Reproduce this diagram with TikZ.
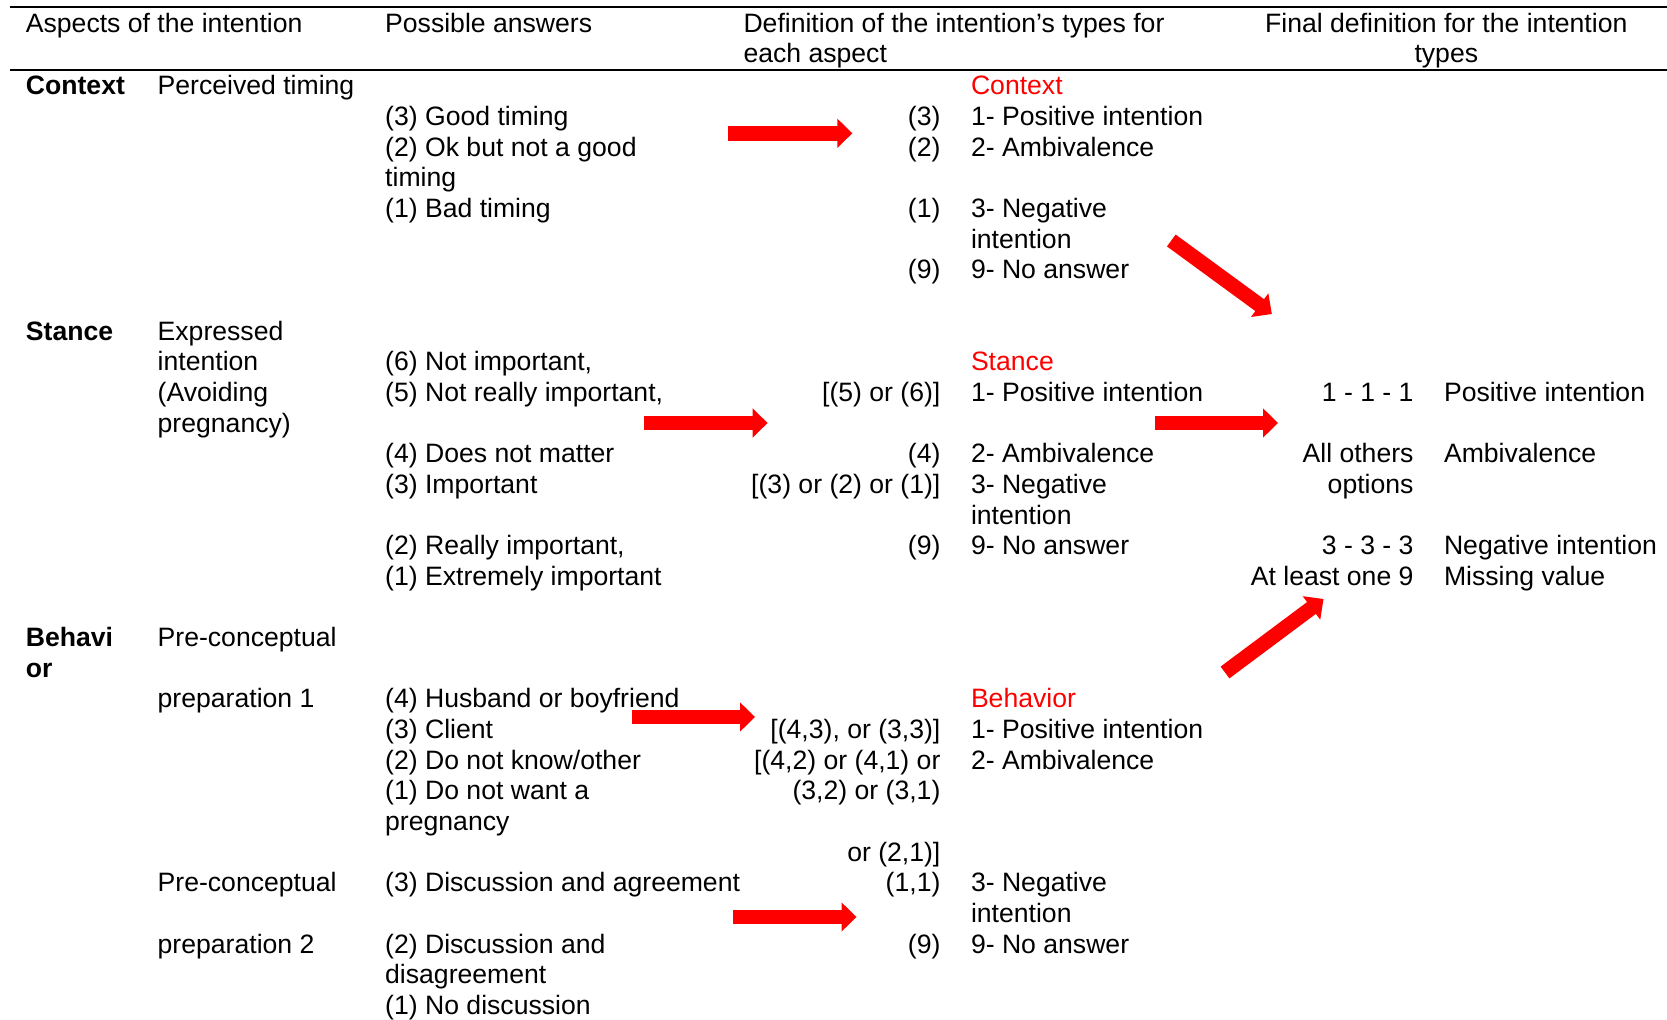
\documentclass[tikz,border=0pt]{standalone}
\usepackage{fontspec}
\setmainfont{Liberation Sans}
\usepackage{tikz}
\usepackage{xcolor}
\usetikzlibrary{calc}

\newcommand{\fs}{\fontsize{13.3pt}{15.33pt}\selectfont}
\newcommand{\redarrow}[2]{%
  \coordinate (hb) at ($(#2)!7.5pt!(#1)$);
  \coordinate (hs) at ($(#2)!7pt!(#1)$);
  \draw[arrowshaft] (#1) -- (hs);
  \fill[red] (#2) -- ($(hb)!7.33pt!90:(#2)$) -- ($(hb)!7.33pt!-90:(#2)$) -- cycle;
}

\tikzset{
  lbl/.style={anchor=base west, inner sep=0pt, font=\fs},
  val/.style={anchor=base east, inner sep=0pt, font=\fs},
  ctr/.style={anchor=base, inner sep=0pt, font=\fs},
  aspect/.style={lbl, font=\fs\bfseries},
  redlbl/.style={lbl, text=red},
  arrowshaft/.style={draw=red, line width=7.35pt},
  rulew/.style={line width=1pt},
}

\begin{document}
\begin{tikzpicture}[x=0.5pt,y=0.5pt,yscale=-1,xscale=1]
\useasboundingbox (0,0) rectangle (1667,1020);

%Straight Lines [rules]
\draw [rulew] (10,7.4) -- (1667,7.4) ;
\draw [rulew] (10,70) -- (1667,70) ;

% Text Node [header]
\node [lbl] (hAsp) at (25.5,32.4) {Aspects of the intention};
\node [lbl] (hAns) at (384.8,32.4) {Possible answers};
\node [lbl] (hDef) at (743.1,32.4) {Definition of the intention’s types for};
\node [lbl] (hDefb) at (743.1,63) {each aspect};
\node [ctr] (hFin) at (1446.3,32.4) {Final definition for the intention};
\node [ctr] (hFinb) at (1446.3,63) {types};

% Text Node [context]
\node [aspect] (ctx) at (25.5,95) {Context};
\node [lbl] (ctxQ) at (157.3,95) {Perceived timing};
\node [redlbl] (ctxT) at (970.6,95) {Context};
\node [lbl] (ctxA3) at (384.8,125.65) {(3) Good timing};
\node [val] (ctxV3) at (940.8,125.65) {(3)};
\node [lbl] (ctxT1) at (970.6,125.65) {1- Positive intention};
\node [lbl] (ctxA2) at (384.8,156.3) {(2) Ok but not a good};
\node [val] (ctxV2) at (940.8,156.3) {(2)};
\node [lbl] (ctxT2) at (970.6,156.3) {2- Ambivalence};
\node [lbl] (ctxA2b) at (384.8,186.95) {timing};
\node [lbl] (ctxA1) at (384.8,217.6) {(1) Bad timing};
\node [val] (ctxV1) at (940.8,217.6) {(1)};
\node [lbl] (ctxT3) at (970.6,217.6) {3- Negative};
\node [lbl] (ctxT3b) at (970.6,248.25) {intention};
\node [val] (ctxV9) at (940.8,278.9) {(9)};
\node [lbl] (ctxT9) at (970.6,278.9) {9- No answer};

% Text Node [stance]
\node [aspect] (stc) at (25.5,340.2) {Stance};
\node [lbl] (stcQ) at (157.3,340.2) {Expressed};
\node [lbl] (stcQb) at (157.3,370.85) {intention};
\node [lbl] (stcQc) at (157.3,401.5) {(Avoiding};
\node [lbl] (stcQd) at (157.3,432.15) {pregnancy)};
\node [lbl] (stcA6) at (384.8,370.85) {(6) Not important,};
\node [redlbl] (stcT) at (970.6,370.85) {Stance};
\node [lbl] (stcA5) at (384.8,401.5) {(5) Not really important,};
\node [val] (stcV1) at (940.8,401.5) {[(5) or (6)]};
\node [lbl] (stcT1) at (970.6,401.5) {1- Positive intention};
\node [lbl] (stcA4) at (384.8,462.8) {(4) Does not matter};
\node [val] (stcV2) at (940.8,462.8) {(4)};
\node [lbl] (stcT2) at (970.6,462.8) {2- Ambivalence};
\node [lbl] (stcA3) at (384.8,493.45) {(3) Important};
\node [val] (stcV3) at (940.8,493.45) {[(3) or (2) or (1)]};
\node [lbl] (stcT3) at (970.6,493.45) {3- Negative};
\node [lbl] (stcT3b) at (970.6,524.1) {intention};
\node [lbl] (stcA2) at (384.8,554.75) {(2) Really important,};
\node [val] (stcV9) at (940.8,554.75) {(9)};
\node [lbl] (stcT9) at (970.6,554.75) {9- No answer};
\node [lbl] (stcA1) at (384.8,585.4) {(1) Extremely important};

% Text Node [final]
\node [val] (finC1) at (1413.9,401.5) {1 - 1 - 1};
\node [lbl] (finD1) at (1443.6,401.5) {Positive intention};
\node [val] (finC2) at (1413.9,462.8) {All others};
\node [val] (finC2b) at (1413.9,493.45) {options};
\node [lbl] (finD2) at (1443.6,462.8) {Ambivalence};
\node [val] (finC3) at (1413.9,554.75) {3 - 3 - 3};
\node [lbl] (finD3) at (1443.6,554.75) {Negative intention};
\node [val] (finC9) at (1413.9,585.4) {At least one 9};
\node [lbl] (finD9) at (1443.6,585.4) {Missing value};

% Text Node [behavior]
\node [aspect] (bhv) at (25.5,646.7) {Behavi};
\node [aspect] (bhvb) at (25.5,677.35) {or};
\node [lbl] (bhvQ) at (157.3,646.7) {Pre-conceptual};
\node [lbl] (bhvQb) at (157.3,708) {preparation 1};
\node [lbl] (bhvA4) at (384.8,708) {(4) Husband or boyfriend};
\node [redlbl] (bhvT) at (970.6,708) {Behavior};
\node [lbl] (bhvA3) at (384.8,738.65) {(3) Client};
\node [val] (bhvV1) at (940.8,738.65) {[(4,3), or (3,3)]};
\node [lbl] (bhvT1) at (970.6,738.65) {1- Positive intention};
\node [lbl] (bhvA2) at (384.8,769.3) {(2) Do not know/other};
\node [val] (bhvV2) at (940.8,769.3) {[(4,2) or (4,1) or};
\node [lbl] (bhvT2) at (970.6,769.3) {2- Ambivalence};
\node [lbl] (bhvA1) at (384.8,799.95) {(1) Do not want a};
\node [val] (bhvV2b) at (940.8,799.95) {(3,2) or (3,1)};
\node [lbl] (bhvA1b) at (384.8,830.6) {pregnancy};
\node [val] (bhvV2c) at (940.8,861.25) {or (2,1)]};
\node [lbl] (bhvR) at (157.3,891.9) {Pre-conceptual};
\node [lbl] (bhvRb) at (157.3,953.2) {preparation 2};
\node [lbl] (bhvB3) at (384.8,891.9) {(3) Discussion and agreement};
\node [val] (bhvV3) at (940.8,891.9) {(1,1)};
\node [lbl] (bhvT3) at (970.6,891.9) {3- Negative};
\node [lbl] (bhvT3b) at (970.6,922.55) {intention};
\node [lbl] (bhvB2) at (384.8,953.2) {(2) Discussion and};
\node [val] (bhvV9) at (940.8,953.2) {(9)};
\node [lbl] (bhvT9) at (970.6,953.2) {9- No answer};
\node [lbl] (bhvB2b) at (384.8,983.85) {disagreement};
\node [lbl] (bhvB1) at (384.8,1014.5) {(1) No discussion};

%Shape: Arrows
\coordinate (aCtxS) at (728,133.3);   \coordinate (aCtxE) at (852.3,133.3);
\coordinate (aStcS) at (644,423);     \coordinate (aStcE) at (767.6,423);
\coordinate (aFinS) at (1154.5,423);  \coordinate (aFinE) at (1278,423);
\coordinate (aBh1S) at (631.5,717);   \coordinate (aBh1E) at (755,717);
\coordinate (aBh2S) at (732.5,917);   \coordinate (aBh2E) at (856.5,917);
\coordinate (aDnS) at (1171.3,240.5); \coordinate (aDnE) at (1271.8,314);
\coordinate (aUpS) at (1225,672.5);   \coordinate (aUpE) at (1323.5,599);
\redarrow{aCtxS}{aCtxE}
\redarrow{aStcS}{aStcE}
\redarrow{aFinS}{aFinE}
\redarrow{aBh1S}{aBh1E}
\redarrow{aBh2S}{aBh2E}
\redarrow{aDnS}{aDnE}
\redarrow{aUpS}{aUpE}
\end{tikzpicture}
\end{document}
